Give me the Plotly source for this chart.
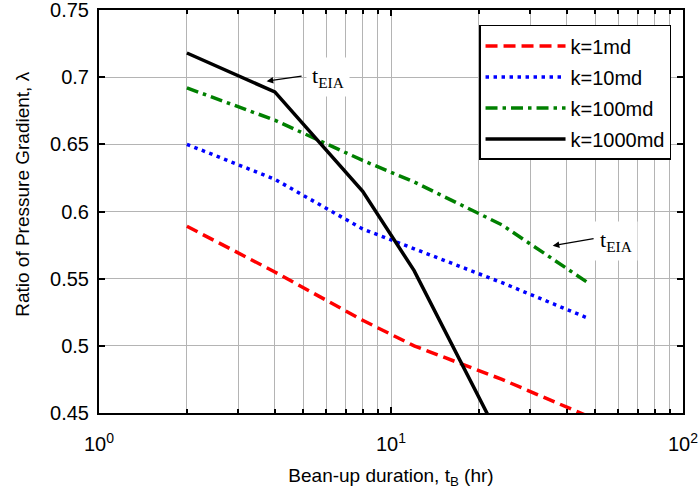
import numpy as np
import plotly.graph_objects as go

# Bean-up duration (hr) and pressure-gradient ratio for each permeability
bean_up_hr = [2, 4, 8, 12, 24, 48]
lam_k1 = [0.589, 0.555, 0.519, 0.500, 0.475, 0.447]
lam_k10 = [0.650, 0.624, 0.587, 0.572, 0.547, 0.520]
lam_k100 = [0.692, 0.668, 0.638, 0.622, 0.590, 0.546]
lam_k1000 = [0.718, 0.689, 0.615, 0.556, 0.428, None]

series_names = ["k=1md", "k=10md", "k=100md", "k=1000md"]
y_ticks = [0.45, 0.5, 0.55, 0.6, 0.65, 0.7, 0.75]
y_tick_text = ["0.45", "0.5", "0.55", "0.6", "0.65", "0.7", "0.75"]
x_ticks = [1, 10, 100]
x_tick_text = ["10<sup>0</sup>", "10<sup>1</sup>", "10<sup>2</sup>"]
x_minor = [2, 3, 4, 5, 6, 7, 8, 9, 20, 30, 40, 50, 60, 70, 80, 90]

FONT = "Liberation Sans"
GRID = "#b4b4b4"

styles = [
    dict(color="#ff0000", width=3.5, dash="12px,6px"),
    dict(color="#0000ff", width=3.5, dash="3.5px,4.5px"),
    dict(color="#008000", width=3.5, dash="12px,5px,3.5px,5px"),
    dict(color="#000000", width=3.5, dash="solid"),
]

fig = go.Figure()
for name, vals, st in zip(series_names, [lam_k1, lam_k10, lam_k100, lam_k1000], styles):
    fig.add_trace(go.Scatter(
        x=bean_up_hr, y=vals, mode="lines", name=name, line=st,
        legendgroup=name, connectgaps=False,
    ))

# arrows marking the end of the early infinite-acting period
arrows = [((3.75, 0.697), (5.0, 0.701)), ((35.8, 0.5745), (50.0, 0.580))]
labels = [(5.1, 0.700), (49.6, 0.578)]
annotations = []
for (hx, hy), (tx, ty) in arrows:
    annotations.append(dict(
        x=np.log10(hx), y=hy, ax=np.log10(tx), ay=ty, xref="x", yref="y",
        axref="x", ayref="y", text="", showarrow=True, arrowhead=2,
        arrowsize=1.1, arrowwidth=1.2, arrowcolor="black",
    ))
for lx, ly in labels:
    annotations.append(dict(
        x=np.log10(lx), y=ly, xref="x", yref="y", text="t<sub>EIA</sub>",
        showarrow=False, xanchor="left", yanchor="middle",
        font=dict(family="Liberation Serif", size=22, color="black"),
        bgcolor="white", borderpad=5,
    ))
annotations.append(dict(
    x=-0.13, y=0.5416, xref="paper", yref="paper",
    text="Ratio of Pressure Gradient, λ", textangle=-90, showarrow=False,
    xanchor="center", yanchor="middle", font=dict(family=FONT, size=19, color="black"),
))

fig.update_layout(
    width=699, height=492,
    margin=dict(l=99, r=16, t=10, b=79, autoexpand=False),
    paper_bgcolor="white", plot_bgcolor="white",
    font=dict(family=FONT, size=20, color="black"),
    showlegend=True,
    legend=dict(
        x=0.9795, y=0.963, xanchor="right", yanchor="top",
        bgcolor="white", bordercolor="black", borderwidth=1.5,
        font=dict(family=FONT, size=20), itemwidth=80, tracegroupgap=2,
    ),
    annotations=annotations,
)
fig.update_xaxes(
    type="log", range=[0, 2], automargin=False, ticklabeloverflow="allow",
    tickmode="array", tickvals=x_ticks, ticktext=x_tick_text,
    ticks="inside", ticklen=6, tickwidth=2, tickcolor="black",
    showline=True, linecolor="black", linewidth=2, mirror="ticks",
    showgrid=True, gridcolor=GRID, gridwidth=1.2, zeroline=False,
    minor=dict(tickmode="array", tickvals=x_minor, ticks="inside", ticklen=4,
               tickwidth=1.5, tickcolor="black", showgrid=True,
               gridcolor=GRID, gridwidth=1.2),
    title=dict(text="Bean-up duration, t<sub>B</sub> (hr)", font=dict(size=19), standoff=15),
    tickfont=dict(size=20), ticklabelstandoff=12,
)
fig.update_yaxes(
    range=[0.45, 0.75], automargin=False, ticklabeloverflow="allow",
    tickmode="array", tickvals=y_ticks, ticktext=y_tick_text,
    ticks="inside", ticklen=6, tickwidth=2, tickcolor="black",
    showline=True, linecolor="black", linewidth=2, mirror="ticks",
    showgrid=True, gridcolor=GRID, gridwidth=1.2, zeroline=False,
    tickfont=dict(size=20), ticklabelstandoff=4,
)

fig.write_html("out.html")
